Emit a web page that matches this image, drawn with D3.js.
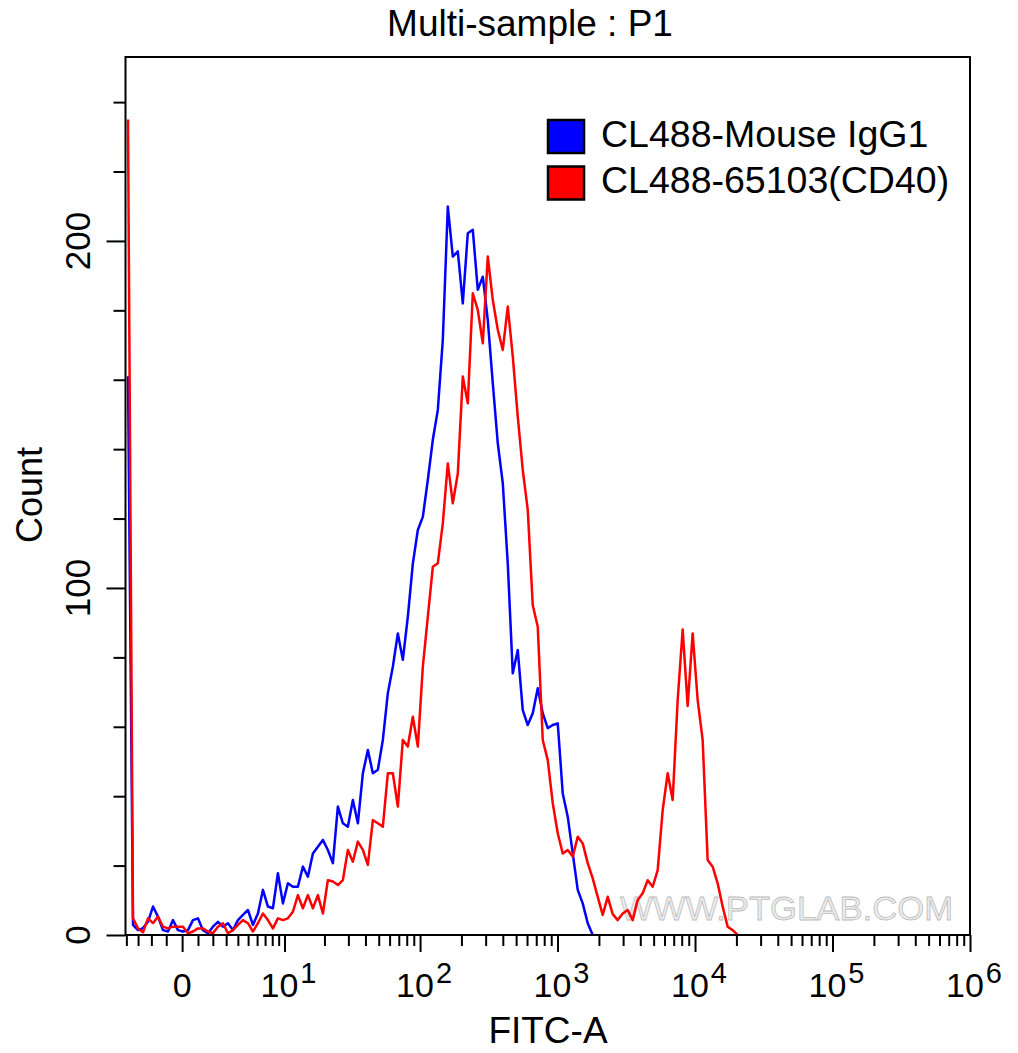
<!DOCTYPE html>
<html><head><meta charset="utf-8">
<script src="https://cdn.jsdelivr.net/npm/d3@7"></script>
<style>
body{margin:0;background:#fff}
svg{display:block}
text{font-family:Arial,"Liberation Sans",sans-serif;fill:#000}
</style>
</head><body>
<svg id="chart" width="1018" height="1053"></svg>
<script>
// ---------- data ----------
const chartTitle = "Multi-sample : P1";
const xLabel = "FITC-A";
const yLabel = "Count";
const seriesNames = ["CL488-Mouse IgG1", "CL488-65103(CD40)"];
const seriesColors = ["#0000ff", "#ff0000"];
const watermark = "WWW.PTGLAB.COM";

// biexponential (arcsinh) display of FITC-A
const cofactor = 3.72;
const xMin = -4.08;
const xMax = 1e6;
const binCount = 169;   // histogram channels, evenly spaced on display scale
const yMax = 253;

const xMajorTicks = [0, 10, 100, 1000, 10000, 100000, 1000000];
const xMajorBase = ["0", "10", "10", "10", "10", "10", "10"];
const xMajorExp = ["", "1", "2", "3", "4", "5", "6"];
const xMinorTicks = [-4, -3, -2, -1, 1, 2, 3, 4, 5, 6, 7, 8, 9,
  20, 30, 40, 50, 60, 70, 80, 90,
  200, 300, 400, 500, 600, 700, 800, 900,
  2000, 3000, 4000, 5000, 6000, 7000, 8000, 9000,
  20000, 30000, 40000, 50000, 60000, 70000, 80000, 90000,
  200000, 300000, 400000, 500000, 600000, 700000, 800000, 900000];
const yMajorTicks = [0, 100, 200];
const yMinorTicks = [20, 40, 60, 80, 120, 140, 160, 180, 220, 240];

// counts per channel (channel 0 = leftmost)
const isotypeCounts = [161, 2.9, 1.4, 2, 3.8, 8.2, 5.3, 1.4, 1, 4.3,
  1.4, 1, 1.4, 4.3, 4.8, 1.4, 0.5, 2.4, 3.8, 2.4,
  3.4, 1.4, 4.3, 5.8, 7.2, 2.9, 6.2, 13, 8.2, 7.7,
  17.8, 9.1, 14.9, 13.9, 13.9, 19.7, 16.8, 23.5, 25.4, 27.4,
  24.5, 20.7, 37, 32.2, 31.2, 38.9, 32.2, 46.6, 53.3, 46.6,
  47.6, 56.2, 69.7, 77.3, 86.9, 79.3, 91.7, 107, 116.7, 120.5,
  131.1, 142.7, 151.3, 171.5, 209.9, 195.5, 197, 182, 202.2, 203.2,
  185.9, 189.7, 177.2, 159, 141.7, 130.2, 107, 75.4, 82.1, 64.8,
  60.5, 63.9, 71.1, 63.9, 59.6, 60.5, 61, 40.8, 34.1, 23.5,
  13, 9.1, 3.4, 0];
const cd40Counts = [235, 4.8, 1.9, 0.8, 4.8, 3.4, 5.3, 2.4, 1.9, 2.4,
  2.4, 2.4, 0.5, 1, 1.9, 1.9, 1, 0.5, 2.4, 3.4,
  0.5, 1.4, 2.9, 4.3, 3.4, 1, 3.4, 6.2, 4.3, 1.9,
  4.8, 4.3, 4.8, 6.7, 11.5, 7.7, 11.5, 7.7, 11.5, 6.2,
  15.8, 15.4, 14.4, 15.8, 24.5, 21.1, 26.9, 24.5, 20.2, 33.1,
  32.2, 31.2, 46.6, 46.6, 37, 56.2, 54.3, 62.9, 54.3, 77.3,
  91.7, 106.1, 107.1, 118.6, 135.9, 124.4, 133, 160.9, 153.2, 184.9,
  180.1, 170.5, 195.5, 183, 174.4, 168.6, 181.1, 166.7, 149.4, 134,
  122.5, 95, 88.8, 56.2, 50.4, 38, 29.3, 23.5, 24.5, 22.6,
  28.3, 26.4, 20.7, 16.3, 11, 5.8, 11, 6, 4.3, 6.2,
  7.2, 4.3, 10.1, 12, 15.8, 13.9, 18.7, 36, 46.6, 38.9,
  67.7, 88, 66, 86.9, 67.7, 56.2, 21.6, 19.7, 14.9, 8.2,
  2.4, 1.4, 0];

// ---------- layout ----------
const svg = d3.select("#chart");
const L = 125.5, R = 970, T = 57, B = 935;

const tf = v => Math.asinh(v / cofactor);
const tMin = tf(xMin), tMax = tf(xMax);
const xs = d3.scaleLinear().domain([tMin, tMax]).range([L, R]);
const x = v => xs(tf(v));
const y = d3.scaleLinear().domain([0, yMax]).range([B, T]);
const binW = (tMax - tMin) / binCount;
const binCenter = i => tMin + (i + 0.5) * binW;

// clip
svg.append("defs").append("clipPath").attr("id", "plotclip")
  .append("rect").attr("x", L).attr("y", T).attr("width", R - L).attr("height", B - T);

// watermark
svg.append("text")
  .attr("x", 620).attr("y", 920)
  .attr("textLength", 333).attr("lengthAdjust", "spacingAndGlyphs")
  .style("font-size", "34px")
  .style("fill", "#ececec").style("stroke", "#bdbdbd").style("stroke-width", 0.8)
  .text(watermark);

// curves
const line = d3.line()
  .x((d, i) => xs(binCenter(i)))
  .y(d => y(d));
const plot = svg.append("g").attr("clip-path", "url(#plotclip)");
[isotypeCounts, cd40Counts].forEach((arr, k) => {
  plot.append("path").datum(arr)
    .attr("d", line)
    .attr("fill", "none")
    .attr("stroke", seriesColors[k])
    .attr("stroke-width", 2.5)
    .attr("stroke-linejoin", "round");
});

// x axis ticks
const xAxisMajor = d3.axisBottom(xs).tickValues(xMajorTicks.map(tf)).tickSize(17).tickFormat("");
const xAxisMinor = d3.axisBottom(xs).tickValues(xMinorTicks.map(tf)).tickSize(11).tickFormat("");
[xAxisMajor, xAxisMinor].forEach(ax => {
  const g = svg.append("g").attr("transform", `translate(0,${B})`).call(ax);
  g.select(".domain").remove();
  g.selectAll("line").attr("stroke", "#000").attr("stroke-width", 2);
});

// y axis ticks
const yAxisMajor = d3.axisLeft(y).tickValues(yMajorTicks).tickSize(19).tickFormat("");
const yAxisMinor = d3.axisLeft(y).tickValues(yMinorTicks).tickSize(12).tickFormat("");
[yAxisMajor, yAxisMinor].forEach(ax => {
  const g = svg.append("g").attr("transform", `translate(${L},0)`).call(ax);
  g.select(".domain").remove();
  g.selectAll("line").attr("stroke", "#000").attr("stroke-width", 2);
});

// frame
svg.append("rect").attr("x", L).attr("y", T).attr("width", R - L).attr("height", B - T)
  .attr("fill", "none").attr("stroke", "#000").attr("stroke-width", 2);

// x tick labels
xMajorTicks.forEach((v, i) => {
  const t = svg.append("text")
    .attr("x", x(v) + (xMajorExp[i] ? 4 : 0)).attr("y", 997)
    .attr("text-anchor", "middle")
    .style("font-size", "34px");
  t.append("tspan").text(xMajorBase[i]);
  if (xMajorExp[i]) {
    t.append("tspan").attr("dy", -14).attr("dx", 2).style("font-size", "29px").text(xMajorExp[i]);
  }
});

// y tick labels
yMajorTicks.forEach(v => {
  svg.append("text")
    .attr("transform", `translate(90,${y(v)}) rotate(-90)`)
    .attr("text-anchor", "middle")
    .style("font-size", "35px")
    .text(v);
});

// axis titles
svg.append("text").attr("x", 548).attr("y", 1043).attr("text-anchor", "middle")
  .style("font-size", "37px").text(xLabel);
svg.append("text")
  .attr("transform", "translate(42,495) rotate(-90)")
  .attr("text-anchor", "middle").style("font-size", "36px").text(yLabel);

// title
svg.append("text").attr("x", 530).attr("y", 36).attr("text-anchor", "middle")
  .style("font-size", "37px").text(chartTitle);

// legend
seriesNames.forEach((name, k) => {
  const yy = 120 + k * 46.5;
  svg.append("rect").attr("x", 548).attr("y", yy).attr("width", 36).attr("height", 33)
    .attr("fill", seriesColors[k]).attr("stroke", "#000").attr("stroke-width", 2.5);
  svg.append("text").attr("x", 601).attr("y", yy + 26.5)
    .style("font-size", "37.5px").text(name);
});
</script>
</body></html>
